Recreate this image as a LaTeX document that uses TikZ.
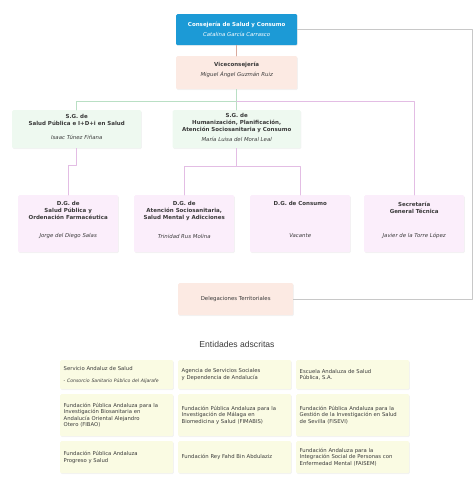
\documentclass[tikz,border=0pt]{standalone}
\usepackage{fontspec}
\setmainfont{DejaVu Sans}
\newfontfamily\headfont{Liberation Sans}
\usetikzlibrary{positioning,shadows}
\definecolor{consblue}{HTML}{1C9AD6}
\definecolor{vicepeach}{HTML}{FCEAE3}
\definecolor{sggreen}{HTML}{EEF9F0}
\definecolor{dgpink}{HTML}{FBEEFB}
\definecolor{entyellow}{HTML}{FAFBE3}
\definecolor{viceline}{HTML}{D9A99C}
\definecolor{sgline}{HTML}{B9DFC4}
\definecolor{dgline}{HTML}{E3BDE4}
\definecolor{rimline}{HTML}{C8C8C8}
\definecolor{ink}{HTML}{3A3A3A}
\tikzset{
  every picture/.style={line join=round, line cap=round},
  box/.style={rectangle, rounded corners=1.2pt, inner sep=0pt, anchor=north west,
    drop shadow={shadow xshift=0.6pt, shadow yshift=-0.8pt, opacity=0.10}},
  titletext/.style={anchor=north, inner sep=0pt, align=center, text=ink,
    font=\bfseries\fontsize{5.5}{7}\selectfont},
  nametext/.style={inner sep=0pt, text=ink, font=\itshape\fontsize{5.4}{7}\selectfont},
  entbox/.style={box, fill=entyellow, minimum width=113pt, text width=106pt,
    inner xsep=3.5pt, align=left, text=ink, font=\fontsize{5.3}{6.5}\selectfont},
  link/.style={line width=0.8pt},
}

\begin{document}
\begin{tikzpicture}[x=1pt,y=-1pt]
\useasboundingbox (0,0) rectangle (474,504);
% top of the chart
\node[box,fill=consblue,minimum width=121pt,minimum height=31pt] (cons) at (176,14) {};
\node[titletext,text=white] (consT) at ([yshift=-7.5pt]cons.north) {Consejería de Salud y Consumo};
\node[nametext,text=white] (consN) at ([yshift=-20pt]cons.north) {Catalina García Carrasco};
\node[box,fill=vicepeach,minimum width=121pt,minimum height=33pt] (vice) at (176,56) {};
\node[titletext] (viceT) at ([yshift=-5.5pt]vice.north) {Viceconsejería};
\node[nametext] (viceN) at ([yshift=-18.5pt]vice.north) {Miguel Ángel Guzmán Ruiz};
% secretarias generales
\node[box,fill=sggreen,minimum width=129pt,minimum height=38pt] (sg1) at (12,110) {};
\node[titletext] (sg1T) at ([yshift=-4.5pt]sg1.north) {S.G. de\\Salud Pública e I+D+i en Salud};
\node[nametext] (sg1N) at ([yshift=-27pt]sg1.north) {Isaac Túnez Fiñana};
\node[box,fill=sggreen,minimum width=128pt,minimum height=38pt] (sg2) at (172.5,110) {};
\node[titletext] (sg2T) at ([yshift=-3.5pt]sg2.north) {S.G. de\\Humanización, Planificación,\\Atención Sociosanitaria y Consumo};
\node[nametext] (sg2N) at ([yshift=-29pt]sg2.north) {María Luisa del Moral Leal};
% direcciones generales
\foreach \nm/\xx/\tt/\who in {dg1/18/{D.G. de\\Salud Pública y\\Ordenación Farmacéutica}/Jorge del Diego Salas,
    dg2/134/{D.G. de\\Atención Sociosanitaria,\\Salud Mental y Adicciones}/Trinidad Rus Molina,
    dg3/250/{D.G. de Consumo}/Vacante,
    sec/364/{Secretaría\\General Técnica}/Javier de la Torre López}{
  \node[box,fill=dgpink,minimum width=100pt,minimum height=57pt] (\nm) at (\xx,195) {};
  \node[titletext] (\nm T) at ([yshift=-6.5pt]\nm.north) {\tt};
  \node[nametext] (\nm N) at ([yshift=-41pt]\nm.north) {\who};
}
\node[box,fill=vicepeach,minimum width=115pt,minimum height=32pt,text=ink,
  font=\fontsize{5.4}{6.5}\selectfont] (deleg) at (178,283) {Delegaciones Territoriales};
% connectors
\coordinate (bus) at ([yshift=-12pt]vice.south);
\coordinate (rim) at (472.5,30);
\draw[link,viceline] (cons) -- (vice);
\draw[link,sgline] (vice) -- (bus) -| (sg1.north);
\draw[link,sgline] (bus) -- (sg2.north);
\draw[link,dgline] (bus) -| (sec.north);
\draw[link,dgline] (sg1.south) -- ++(0,17) -| (dg1.north);
\draw[link,dgline] (sg2.south) -- ++(0,18) -| (dg2.north);
\draw[link,dgline] (sg2.south) -- ++(0,18) -| (dg3.north);
\draw[link,rimline] (cons.east) -- (cons.east -| rim) |- (deleg.east);
% entidades adscritas
\node[text=ink,font=\headfont\fontsize{8.6}{10}\selectfont] (enttitle) at (237,344) {Entidades adscritas};
\node[entbox,minimum height=29pt] (e11) at (60,360) {Servicio Andaluz de Salud\\[5.5pt]{\itshape\fontsize{4.6}{5}\selectfont - Consorcio Sanitario Público del Aljarafe}};
\node[entbox,minimum height=29pt] (e12) at (178,360) {Agencia de Servicios Sociales\\y Dependencia de Andalucía};
\node[entbox,minimum height=29pt] (e13) at (296,360) {Escuela Andaluza de Salud\\Pública, S.A.};
\node[entbox,minimum height=42pt] (e21) at (60,394) {Fundación Pública Andaluza para la\\Investigación Biosanitaria en\\Andalucía Oriental Alejandro\\Otero (FIBAO)};
\node[entbox,minimum height=42pt] (e22) at (178,394) {Fundación Pública Andaluza para la\\Investigación de Málaga en\\Biomedicina y Salud (FIMABIS)};
\node[entbox,minimum height=42pt] (e23) at (296,394) {Fundación Pública Andaluza para la\\Gestión de la Investigación en Salud\\de Sevilla (FISEVI)};
\node[entbox,minimum height=32pt] (e31) at (60,441) {Fundación Pública Andaluza\\Progreso y Salud};
\node[entbox,minimum height=32pt] (e32) at (178,441) {Fundación Rey Fahd Bin Abdulaziz};
\node[entbox,minimum height=32pt] (e33) at (296,441) {Fundación Andaluza para la\\Integración Social de Personas con\\Enfermedad Mental (FAISEM)};
\end{tikzpicture}
\end{document}
